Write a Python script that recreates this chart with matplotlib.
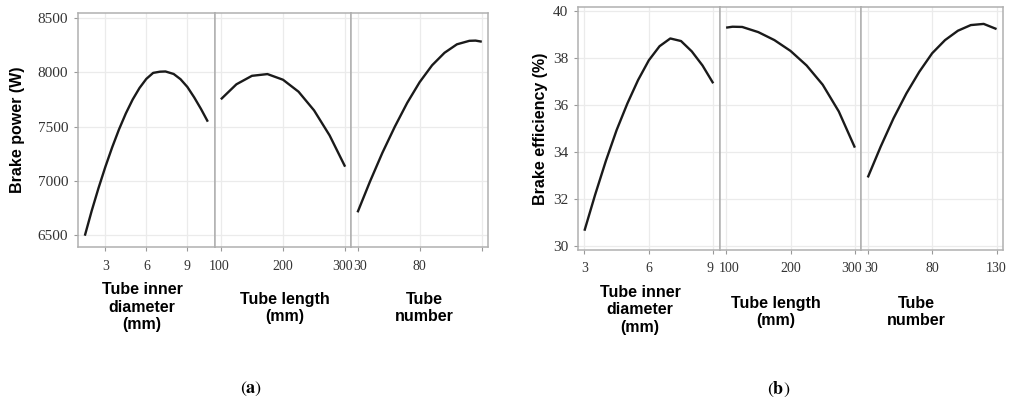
import matplotlib
matplotlib.use('Agg')
import matplotlib.pyplot as plt
from matplotlib.transforms import ScaledTranslation

# ---- data ----
# (a) brake power (W)
diam_a = [1.5, 2.0, 2.5, 3.0, 3.5, 4.0, 4.5, 5.0, 5.5, 6.0, 6.5, 7.0, 7.4,
          8.0, 8.5, 9.0, 9.5, 10.0, 10.5]
power_diam = [6497, 6725, 6935, 7130, 7310, 7475, 7622, 7750, 7856, 7940,
              7995, 8006, 8008, 7985, 7937, 7866, 7770, 7663, 7546]
length_a = [100, 125, 150, 175, 200, 225, 250, 275, 300]
power_length = [7752, 7890, 7968, 7984, 7932, 7822, 7650, 7420, 7132]
number_a = [30, 40, 50, 60, 70, 80, 90, 100, 110, 120, 125, 130]
power_number = [6712, 6995, 7260, 7500, 7720, 7910, 8065, 8180, 8258, 8290,
                8292, 8282]

# (b) brake efficiency (%)
diam_b = [3.0, 3.5, 4.0, 4.5, 5.0, 5.5, 6.0, 6.5, 7.0, 7.5, 8.0, 8.5, 9.0]
eff_diam = [30.64, 32.18, 33.62, 34.93, 36.06, 37.06, 37.90, 38.50, 38.83,
            38.72, 38.28, 37.68, 36.92]
length_b = [100, 110, 125, 150, 175, 200, 225, 250, 275, 300]
eff_length = [39.29, 39.33, 39.32, 39.10, 38.76, 38.30, 37.68, 36.86, 35.72,
              34.18]
number_b = [30, 40, 50, 60, 70, 80, 90, 100, 110, 120, 130]
eff_number = [32.91, 34.22, 35.43, 36.49, 37.41, 38.20, 38.76, 39.16, 39.40,
              39.45, 39.23]

xlabels = ['Tube inner\ndiameter\n(mm)', 'Tube length\n(mm)', 'Tube\nnumber']
yticks_a = [6500, 7000, 7500, 8000, 8500]
yticks_b = [30, 32, 34, 36, 38, 40]

W, H = 1010, 403
fig = plt.figure(figsize=(W / 100, H / 100), dpi=100)

SERIF = 'Liberation Serif'
SANS = 'Liberation Sans'
FRAME = '#b0b0b0'
GRID = '#ebebeb'


def px_axes(x0, x1, y0, y1):
    return fig.add_axes([x0 / W, 1 - y1 / H, (x1 - x0) / W, (y1 - y0) / H])


def nudge(label, dx_px):
    label.set_transform(label.get_transform()
                        + ScaledTranslation(dx_px / 100, 0, fig.dpi_scale_trans))


def panel(left, right, top, bottom, series, xlims, xticks, xticklabels,
          ylim, yticks, ylabel, ylabel_x, xlabel_pos, nudges):
    step = (right - left) / 3
    for i in range(3):
        x0 = left + i * step
        ax = px_axes(x0, x0 + step, top, bottom)
        xs, ys = series[i]
        ax.plot(xs, ys, color='#1a1a1a', lw=1.7, solid_capstyle='butt')
        ax.set_xlim(*xlims[i])
        ax.set_ylim(*ylim)
        ax.set_xticks(xticks[i])
        ax.set_xticklabels(xticklabels[i], fontfamily=SERIF, fontsize=10,
                           color='#333333')
        ax.set_yticks(yticks)
        if i == 0:
            ax.set_yticklabels([str(t) for t in yticks], fontfamily=SERIF,
                               fontsize=11, color='#333333')
        else:
            ax.tick_params(axis='y', left=False, labelleft=False)
        ax.tick_params(length=3, width=0.8, color='#999999', pad=4)
        ax.tick_params(axis='x', pad=6)
        ax.grid(True, color=GRID, lw=0.9)
        ax.set_axisbelow(True)
        for s in ax.spines.values():
            s.set_color(FRAME)
            s.set_linewidth(1.1)
        labels = ax.get_xticklabels()
        for j, dx in nudges[i]:
            nudge(labels[j], dx)
        fig.text(xlabel_pos[i][0] / W, 1 - xlabel_pos[i][1] / H, xlabels[i],
                 ha='center', va='center', multialignment='center',
                 fontfamily=SANS, fontweight='bold', fontsize=11.5,
                 linespacing=1.2)
    fig.text(ylabel_x / W, 1 - (top + bottom) / 2 / H, ylabel, rotation=90,
             ha='center', va='center', fontfamily=SANS, fontweight='bold',
             fontsize=11.5)


panel(78, 488, 13, 247,
      [(diam_a, power_diam), (length_a, power_length), (number_a, power_number)],
      [(1.0, 11.0), (90, 310), (25, 135)],
      [[3, 6, 9], [100, 200, 300], [30, 80, 130]],
      [['3', '6', '9'], ['100', '200', '300'], ['30', '80', '']],
      (6393, 8546), yticks_a, 'Brake power (W)', 18,
      [(142, 307), (285, 308), (424, 308)],
      [[], [(0, -2), (2, -3)], [(0, 3)]])

panel(578, 1003, 7, 250,
      [(diam_b, eff_diam), (length_b, eff_length), (number_b, eff_number)],
      [(2.7, 9.3), (90, 310), (25, 135)],
      [[3, 6, 9], [100, 200, 300], [30, 80, 130]],
      [['3', '6', '9'], ['100', '200', '300'], ['30', '80', '130']],
      (29.82, 40.17), yticks_b, 'Brake efficiency (%)', 540,
      [(640, 310), (776, 312), (916, 312)],
      [[(2, -3)], [(0, 3), (2, -3)], [(0, 3)]])

plt.rcParams['mathtext.fontset'] = 'stix'
fig.text(251 / W, 1 - 389 / H, r'($\mathbf{a}$)', ha='center', va='center',
         fontfamily='STIXGeneral', fontsize=13)
fig.text(779 / W, 1 - 389 / H, r'($\mathbf{b}$)', ha='center', va='center',
         fontfamily='STIXGeneral', fontsize=13)

fig.savefig('out.png', dpi=100)
